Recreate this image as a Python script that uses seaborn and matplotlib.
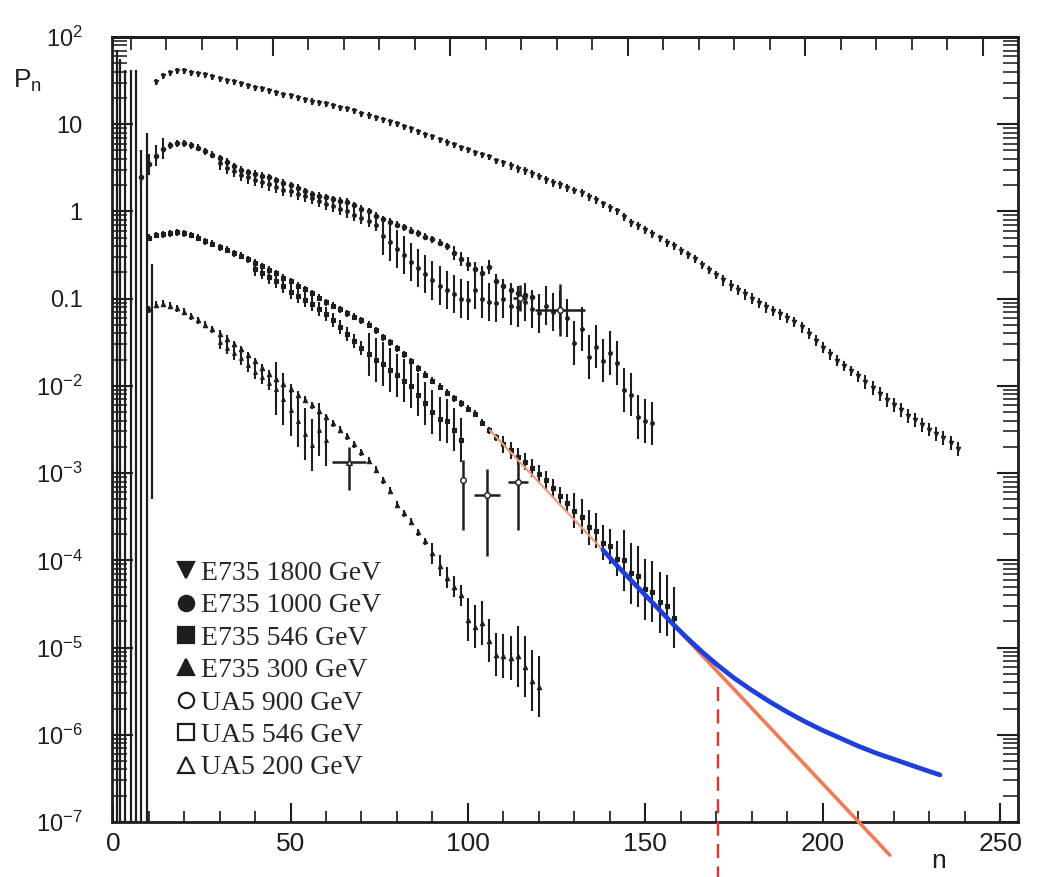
import numpy as np
import matplotlib

matplotlib.use("Agg")

import matplotlib.pyplot as plt
from matplotlib.lines import Line2D
from matplotlib.ticker import FixedLocator, NullFormatter
import seaborn as sns

# ---- data (log10 P_n) ----
# top group: E735 1800 GeV
A_n = np.arange(12, 240, 2)
A_logp = [
    1.48, 1.55, 1.59, 1.61, 1.61, 1.59, 1.58, 1.56, 1.54, 1.52,
    1.50, 1.48, 1.46, 1.44, 1.42, 1.40, 1.38, 1.36, 1.34, 1.32,
    1.30, 1.28, 1.26, 1.24, 1.23, 1.21, 1.19, 1.17, 1.15, 1.12,
    1.10, 1.07, 1.05, 1.02, 1.00, 0.97, 0.94, 0.91, 0.88, 0.85,
    0.82, 0.79, 0.76, 0.73, 0.70, 0.67, 0.65, 0.62, 0.58, 0.55,
    0.52, 0.49, 0.46, 0.43, 0.40, 0.36, 0.33, 0.30, 0.27, 0.24,
    0.21, 0.17, 0.13, 0.08, 0.04, 0.00, -0.06, -0.13, -0.17, -0.21,
    -0.26, -0.31, -0.36, -0.40, -0.45, -0.50, -0.55, -0.61, -0.67, -0.73,
    -0.79, -0.85, -0.90, -0.95, -1.00, -1.05, -1.10, -1.14, -1.18, -1.22,
    -1.27, -1.33, -1.40, -1.48, -1.56, -1.64, -1.71, -1.77, -1.83, -1.89,
    -1.95, -2.02, -2.09, -2.16, -2.22, -2.28, -2.34, -2.39, -2.45, -2.50,
    -2.55, -2.60, -2.66, -2.72,
]
A_err = [0.035] * 50 + [0.045] * 30 + [0.06] * 20 + [0.08] * 14

# second group: E735 1000 GeV (dots) and UA5 900 GeV (bars)
B_n = np.arange(8, 120, 2)
B_logp = [
    0.40, 0.54, 0.64, 0.72, 0.76, 0.78, 0.78, 0.76, 0.73, 0.69,
    0.65, 0.61, 0.57, 0.52, 0.48, 0.45, 0.43, 0.41, 0.39, 0.36,
    0.33, 0.30, 0.27, 0.23, 0.20, 0.18, 0.16, 0.14, 0.12, 0.11,
    0.07, 0.03, 0.00, -0.05, -0.09, -0.12, -0.15, -0.18, -0.22, -0.25,
    -0.29, -0.32, -0.36, -0.40, -0.48, -0.55, -0.60, -0.66, -0.71, -0.64,
    -0.80, -0.86, -0.90, -0.94, -0.96, -0.98,
]
B_err = [0.12] * 4 + [0.04] * 40 + [0.08] * 12

B2_n = np.arange(30, 154, 2)
B2_logp = [
    0.55, 0.50, 0.46, 0.42, 0.39, 0.36, 0.34, 0.31, 0.28, 0.25,
    0.23, 0.20, 0.18, 0.15, 0.12, 0.09, 0.06, 0.03, 0.00, -0.04,
    -0.07, -0.11, -0.15, -0.28, -0.35, -0.43, -0.50, -0.58, -0.65, -0.72,
    -0.79, -0.85, -0.90, -0.95, -1.00, -1.02, -0.90, -1.00, -1.04, -1.05,
    -1.00, -1.08, -1.10, -1.04, -1.12, -1.17, -1.08, -1.15, -1.13, -1.22,
    -1.51, -1.35, -1.67, -1.55, -1.71, -1.62, -1.74, -2.05, -2.10, -2.36,
    -2.40, -2.43,
]
B2_err = [0.07] * 23 + [0.22] * 27 + [0.25] * 12

B_cross_n = [125.9, 114.6]
B_cross_logp = [-1.13, -0.99]
B_cross_xerr = [7.0, 2.0]
B_cross_err = [0.3, 0.15]

# third group: E735 546 GeV (dots) and UA5 546 GeV (bars)
C_n = np.arange(10, 160, 2)
C_logp = [
    -0.30, -0.27, -0.26, -0.25, -0.24, -0.25, -0.27, -0.30, -0.34, -0.37,
    -0.41, -0.44, -0.48, -0.51, -0.55, -0.59, -0.63, -0.67, -0.71, -0.76,
    -0.80, -0.85, -0.89, -0.94, -0.99, -1.04, -1.08, -1.12, -1.17, -1.21,
    -1.25, -1.30, -1.36, -1.44, -1.50, -1.57, -1.64, -1.72, -1.80, -1.87,
    -1.94, -2.01, -2.08, -2.14, -2.20, -2.26, -2.32, -2.42, -2.51, -2.59,
    -2.67, -2.74, -2.81, -2.87, -2.94, -3.01, -3.08, -3.17, -3.26, -3.34,
    -3.43, -3.50, -3.62, -3.66, -3.80, -3.84, -3.98, -4.00, -4.15, -4.18,
    -4.33, -4.36, -4.48, -4.52, -4.66,
]
C_err = [0.04] * 50 + [0.1] * 10 + [0.2] * 7 + [0.35] * 8

C2_n = np.arange(40, 100, 2)
C2_logp = [
    -0.66, -0.70, -0.75, -0.80, -0.86, -0.92, -0.97, -1.02, -1.06, -1.12,
    -1.18, -1.25, -1.32, -1.40, -1.48, -1.57, -1.64, -1.70, -1.75, -1.82,
    -1.88, -1.94, -2.00, -2.10, -2.20, -2.30, -2.38, -2.40, -2.50, -2.62,
]
C2_err = [0.08] * 16 + [0.25] * 14

C_cross_n = [98.6, 105.4, 114.1]
C_cross_logp = [-3.08, -3.25, -3.10]
C_cross_xerr = [0.0, 3.7, 2.7]
C_cross_lo = [0.57, 0.70, 0.55]
C_cross_hi = [0.23, 0.30, 0.25]

# bottom group: E735 300 GeV (dots) and UA5 200 GeV (bars)
D_n = np.arange(10, 122, 2)
D_logp = [
    -1.12, -1.07, -1.06, -1.08, -1.11, -1.15, -1.20, -1.25, -1.30, -1.35,
    -1.40, -1.46, -1.52, -1.58, -1.65, -1.72, -1.79, -1.86, -1.92, -1.98,
    -2.04, -2.10, -2.16, -2.22, -2.29, -2.36, -2.43, -2.50, -2.58, -2.67,
    -2.76, -2.86, -2.96, -3.08, -3.20, -3.36, -3.46, -3.56, -3.68, -3.78,
    -3.92, -4.06, -4.20, -4.30, -4.40, -4.68, -4.76, -4.72, -4.92, -5.08,
    -5.10, -5.12, -5.10, -5.22, -5.38, -5.45,
]
D_err = [0.04] * 40 + [0.12] * 5 + [0.25] * 7 + [0.35] * 4

D2_n = np.arange(30, 62, 2)
D2_logp = [
    -1.50, -1.56, -1.62, -1.68, -1.76, -1.84, -1.90, -1.97, -2.03, -2.15,
    -2.28, -2.40, -2.55, -2.68, -2.50, -2.62,
]
D2_err = [0.08] * 8 + [0.3] * 8

D_cross_n = [66.5]
D_cross_logp = [-2.87]
D_cross_xerr = [4.9]
D_cross_lo = [0.32]
D_cross_hi = [0.17]

# low-n UA5 points whose lower errors run off the scale
low_n = [1, 2, 3.5, 5, 6.5, 8, 9.5, 11]
low_top = [1.85, 1.75, 1.62, 1.62, 1.62, 0.70, 0.90, -0.60]
low_bottom = [-9, -9, -9, -9, -9, -9, -9, -3.3]

# fits
blue_n = [138, 142, 146, 150, 154, 158, 162, 166, 170, 175, 180, 185,
          190, 195, 200, 205, 210, 215, 220, 225, 230, 233]
blue_logp = [-3.88, -4.06, -4.23, -4.40, -4.57, -4.74, -4.90, -5.05, -5.19,
             -5.35, -5.49, -5.62, -5.74, -5.85, -5.95, -6.04, -6.13, -6.21,
             -6.28, -6.35, -6.42, -6.46]
orange_n = [106.2, 160.0, 218.9]
orange_logp = [-2.51, -4.83, -7.38]
cut_n = 170.4
cut_logp = [-5.45, -7.65]

legend_labels = [
    "E735 1800 GeV", "E735 1000 GeV", "E735 546 GeV", "E735 300 GeV",
    "UA5 900 GeV", "UA5 546 GeV", "UA5 200 GeV",
]

# ---- style ----
sns.set_style("ticks")
plt.rcParams["font.family"] = ["Liberation Sans", "DejaVu Sans"]
plt.rcParams["mathtext.fontset"] = "custom"
plt.rcParams["mathtext.rm"] = "Liberation Sans"
plt.rcParams["mathtext.it"] = "Liberation Sans:italic"

INK = "#1e1e1e"

fig = plt.figure(figsize=(10.44, 8.77), dpi=100)
ax = fig.add_axes([112 / 1044, 1 - 822 / 877, (1018 - 112) / 1044, (822 - 37) / 877])
ax.set_yscale("log")
ax.set_xlim(-0.3, 255)
ax.set_ylim(1e-7, 1e2)


def log_bars(n, logp, err, marker, size=10):
    n = np.asarray(n, float)
    logp = np.asarray(logp, float)
    err = np.asarray(err, float)
    p = 10 ** logp
    lo = p - 10 ** (logp - err)
    hi = 10 ** (logp + err) - p
    ax.errorbar(n, p, yerr=[lo, hi], fmt="none", ecolor=INK,
                elinewidth=1.5, capsize=0, zorder=2)
    sns.scatterplot(x=n, y=p, marker=marker, s=size, color=INK,
                    edgecolor=INK, linewidth=0.8, ax=ax, legend=False,
                    zorder=3)


def crosses(n, logp, xerr, lo, hi, marker):
    n = np.asarray(n, float)
    logp = np.asarray(logp, float)
    p = 10 ** logp
    ylo = p - 10 ** (logp - np.asarray(lo))
    yhi = 10 ** (logp + np.asarray(hi)) - p
    ax.errorbar(n, p, xerr=xerr, yerr=[ylo, yhi], fmt="none", ecolor=INK,
                elinewidth=1.8, capsize=0, zorder=2)
    sns.scatterplot(x=n, y=p, marker=marker, s=16, color="white",
                    edgecolor=INK, linewidth=1.0, ax=ax, legend=False, zorder=3)


# low-n lines
ax.vlines(low_n, [10 ** b for b in low_bottom], [10 ** t for t in low_top],
          color=INK, lw=1.6, zorder=2)

log_bars(A_n, A_logp, A_err, "v")
log_bars(B_n, B_logp, B_err, "o")
log_bars(B2_n, B2_logp, B2_err, "o", size=7)
crosses(B_cross_n, B_cross_logp, B_cross_xerr, B_cross_err, B_cross_err, "o")
log_bars(C_n, C_logp, C_err, "s")
log_bars(C2_n, C2_logp, C2_err, "s", size=7)
crosses(C_cross_n, C_cross_logp, C_cross_xerr, C_cross_lo, C_cross_hi, "o")
log_bars(D_n, D_logp, D_err, "^")
log_bars(D2_n, D2_logp, D2_err, "^", size=7)
crosses(D_cross_n, D_cross_logp, D_cross_xerr, D_cross_lo, D_cross_hi, "^")

# fit lines: faint red under the data, stronger orange beyond it
orange_p = [10 ** v for v in orange_logp]
sns.lineplot(x=orange_n[:2], y=orange_p[:2], color="#f29a86", lw=1.6,
             ax=ax, zorder=4)
sns.lineplot(x=orange_n[1:], y=orange_p[1:], color="#f27a55", lw=2.6,
             ax=ax, clip_on=False, zorder=4)
sns.lineplot(x=blue_n, y=[10 ** v for v in blue_logp], color="#1f3fdc",
             lw=3.4, ax=ax, zorder=5)
ax.plot([cut_n, cut_n], [10 ** v for v in cut_logp], color="#e4312b", lw=1.7,
        ls=(0, (6, 3.5)), clip_on=False, zorder=5)

# axes styling
ax.set_xticks([0, 50, 100, 150, 200, 250])
ax.xaxis.set_minor_locator(FixedLocator(np.arange(10, 255, 10)))
decades = [1e-7, 1e-6, 1e-5, 1e-4, 1e-3, 1e-2, 1e-1, 1, 10, 100]
ax.set_yticks(decades, labels=[r"$10^{-7}$", r"$10^{-6}$", r"$10^{-5}$",
                               r"$10^{-4}$", r"$10^{-3}$", r"$10^{-2}$",
                               "0.1", "1", "10", r"$10^{2}$"])
ax.yaxis.set_minor_locator(
    FixedLocator([m * d for d in decades[:-1] for m in range(2, 10)]))
ax.yaxis.set_minor_formatter(NullFormatter())
ax.tick_params(axis="x", which="major", direction="in", length=14, width=1.5,
               top=False, labelsize=19, pad=7, colors=INK)
ax.tick_params(axis="x", which="minor", direction="in", length=8, width=1.3,
               top=False)
ax.tick_params(axis="y", which="major", direction="in", length=15, width=1.5,
               right=True, labelsize=17, pad=21, colors=INK)
ax.tick_params(axis="y", which="minor", direction="in", length=11, width=1.2,
               right=True)
for side in ax.spines.values():
    side.set_linewidth(2.0)
    side.set_color(INK)

top = ax.secondary_xaxis("top")
top.set_xticks([45, 95, 145, 195, 245], labels=[])
top.xaxis.set_minor_locator(FixedLocator([5, 15, 25, 35, 55, 65, 75, 85, 105, 115,
                                          125, 135, 155, 165, 175, 185, 205,
                                          215, 225, 235, 255]))
top.tick_params(which="major", direction="in", length=14, width=1.5)
top.tick_params(which="minor", direction="in", length=9, width=1.3)
top.spines["top"].set_linewidth(2.0)

# legend
markers = ["v", "o", "s", "^", "o", "s", "^"]
filled = [True, True, True, True, False, False, False]
handles = [
    Line2D([], [], ls="none", marker=m, ms=11, mew=1.6, mec=INK,
           mfc=INK if f else "white")
    for m, f in zip(markers, filled)
]
ax.legend(handles, legend_labels, loc="upper left", bbox_to_anchor=(0.072, 0.333),
          frameon=False, prop={"family": "Liberation Serif", "size": 20},
          handlelength=0.65, handletextpad=0.2, labelspacing=0.25,
          borderpad=0, borderaxespad=0)

fig.text(13 / 1044, 1 - 88 / 877, r"$\mathregular{P_n}$", fontsize=19,
         va="baseline", ha="left", color=INK)
fig.text(931 / 1044, 1 - 868 / 877, "n", fontsize=19, va="baseline",
         ha="left", color=INK)

fig.savefig("out.png", dpi=100)
